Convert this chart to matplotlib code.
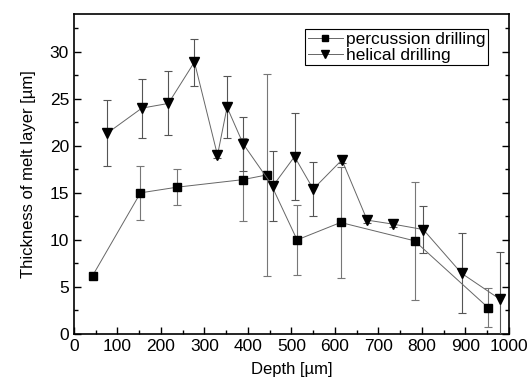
import matplotlib
matplotlib.use("Agg")
import matplotlib.pyplot as plt
from matplotlib.ticker import MultipleLocator

plt.rcParams['font.family'] = ['Liberation Sans', 'DejaVu Sans']

perc_x = [43, 153, 237, 388, 443, 513, 613, 783, 952]
perc_y = [6.2, 15.0, 15.6, 16.4, 16.9, 10.0, 11.85, 9.9, 2.8]
perc_err = [0.3, 2.9, 1.9, 4.4, 10.7, 3.7, 5.85, 6.3, 2.05]

hel_x = [77, 156, 217, 277, 330, 352, 389, 457, 507, 550, 616, 674, 734, 803, 891, 979]
hel_y = [21.35, 24.0, 24.5, 28.9, 19.0, 24.1, 20.2, 15.7, 18.85, 15.4, 18.5, 12.1, 11.67, 11.1, 6.45, 3.7]
hel_err = [3.55, 3.15, 3.4, 2.5, 0.3, 3.3, 2.9, 3.7, 4.6, 2.85, 0.3, 0.3, 0.3, 2.5, 4.25, 5.05]

fig = plt.figure(figsize=(5.28, 3.85), dpi=100)
ax = fig.add_axes([0.140, 0.1325, 0.824, 0.831])

ax.errorbar(perc_x, perc_y, yerr=perc_err, fmt='s-', color='#666666', lw=0.7,
            mfc='black', mec='black', ms=5.5, ecolor='#777777', elinewidth=0.8,
            capsize=3, capthick=0.8, label='percussion drilling', zorder=3)
ax.errorbar(hel_x, hel_y, yerr=hel_err, fmt='v-', color='#666666', lw=0.7,
            mfc='black', mec='black', ms=6.5, ecolor='#555555', elinewidth=0.8,
            capsize=3, capthick=0.8, label='helical drilling', zorder=3)

ax.set_xlim(0, 1000)
ax.set_ylim(0, 34)
ax.xaxis.set_major_locator(MultipleLocator(100))
ax.xaxis.set_minor_locator(MultipleLocator(50))
ax.yaxis.set_major_locator(MultipleLocator(5))
ax.yaxis.set_minor_locator(MultipleLocator(2.5))
ax.tick_params(which='both', direction='in', top=False, right=True, labelsize=12.5)
ax.tick_params(which='major', length=5, width=1)
ax.tick_params(which='minor', length=3, width=1)
for s in ax.spines.values():
    s.set_linewidth(1.2)

ax.set_xlabel('Depth [µm]', fontsize=12, labelpad=6)
ax.set_ylabel('Thickness of melt layer [µm]', fontsize=12, labelpad=10)

h, l = ax.get_legend_handles_labels()
h = [hh[0] for hh in h]
leg = ax.legend(h, l, loc='upper right', bbox_to_anchor=(0.964, 0.97), fontsize=12.5,
                frameon=True, fancybox=False, edgecolor='black', framealpha=1,
                handlelength=2.0, handletextpad=0.2, borderpad=0.15, labelspacing=0.05,
                borderaxespad=0.3, markerscale=0.85)
leg.get_frame().set_linewidth(0.8)

fig.savefig('out.png', dpi=100)
